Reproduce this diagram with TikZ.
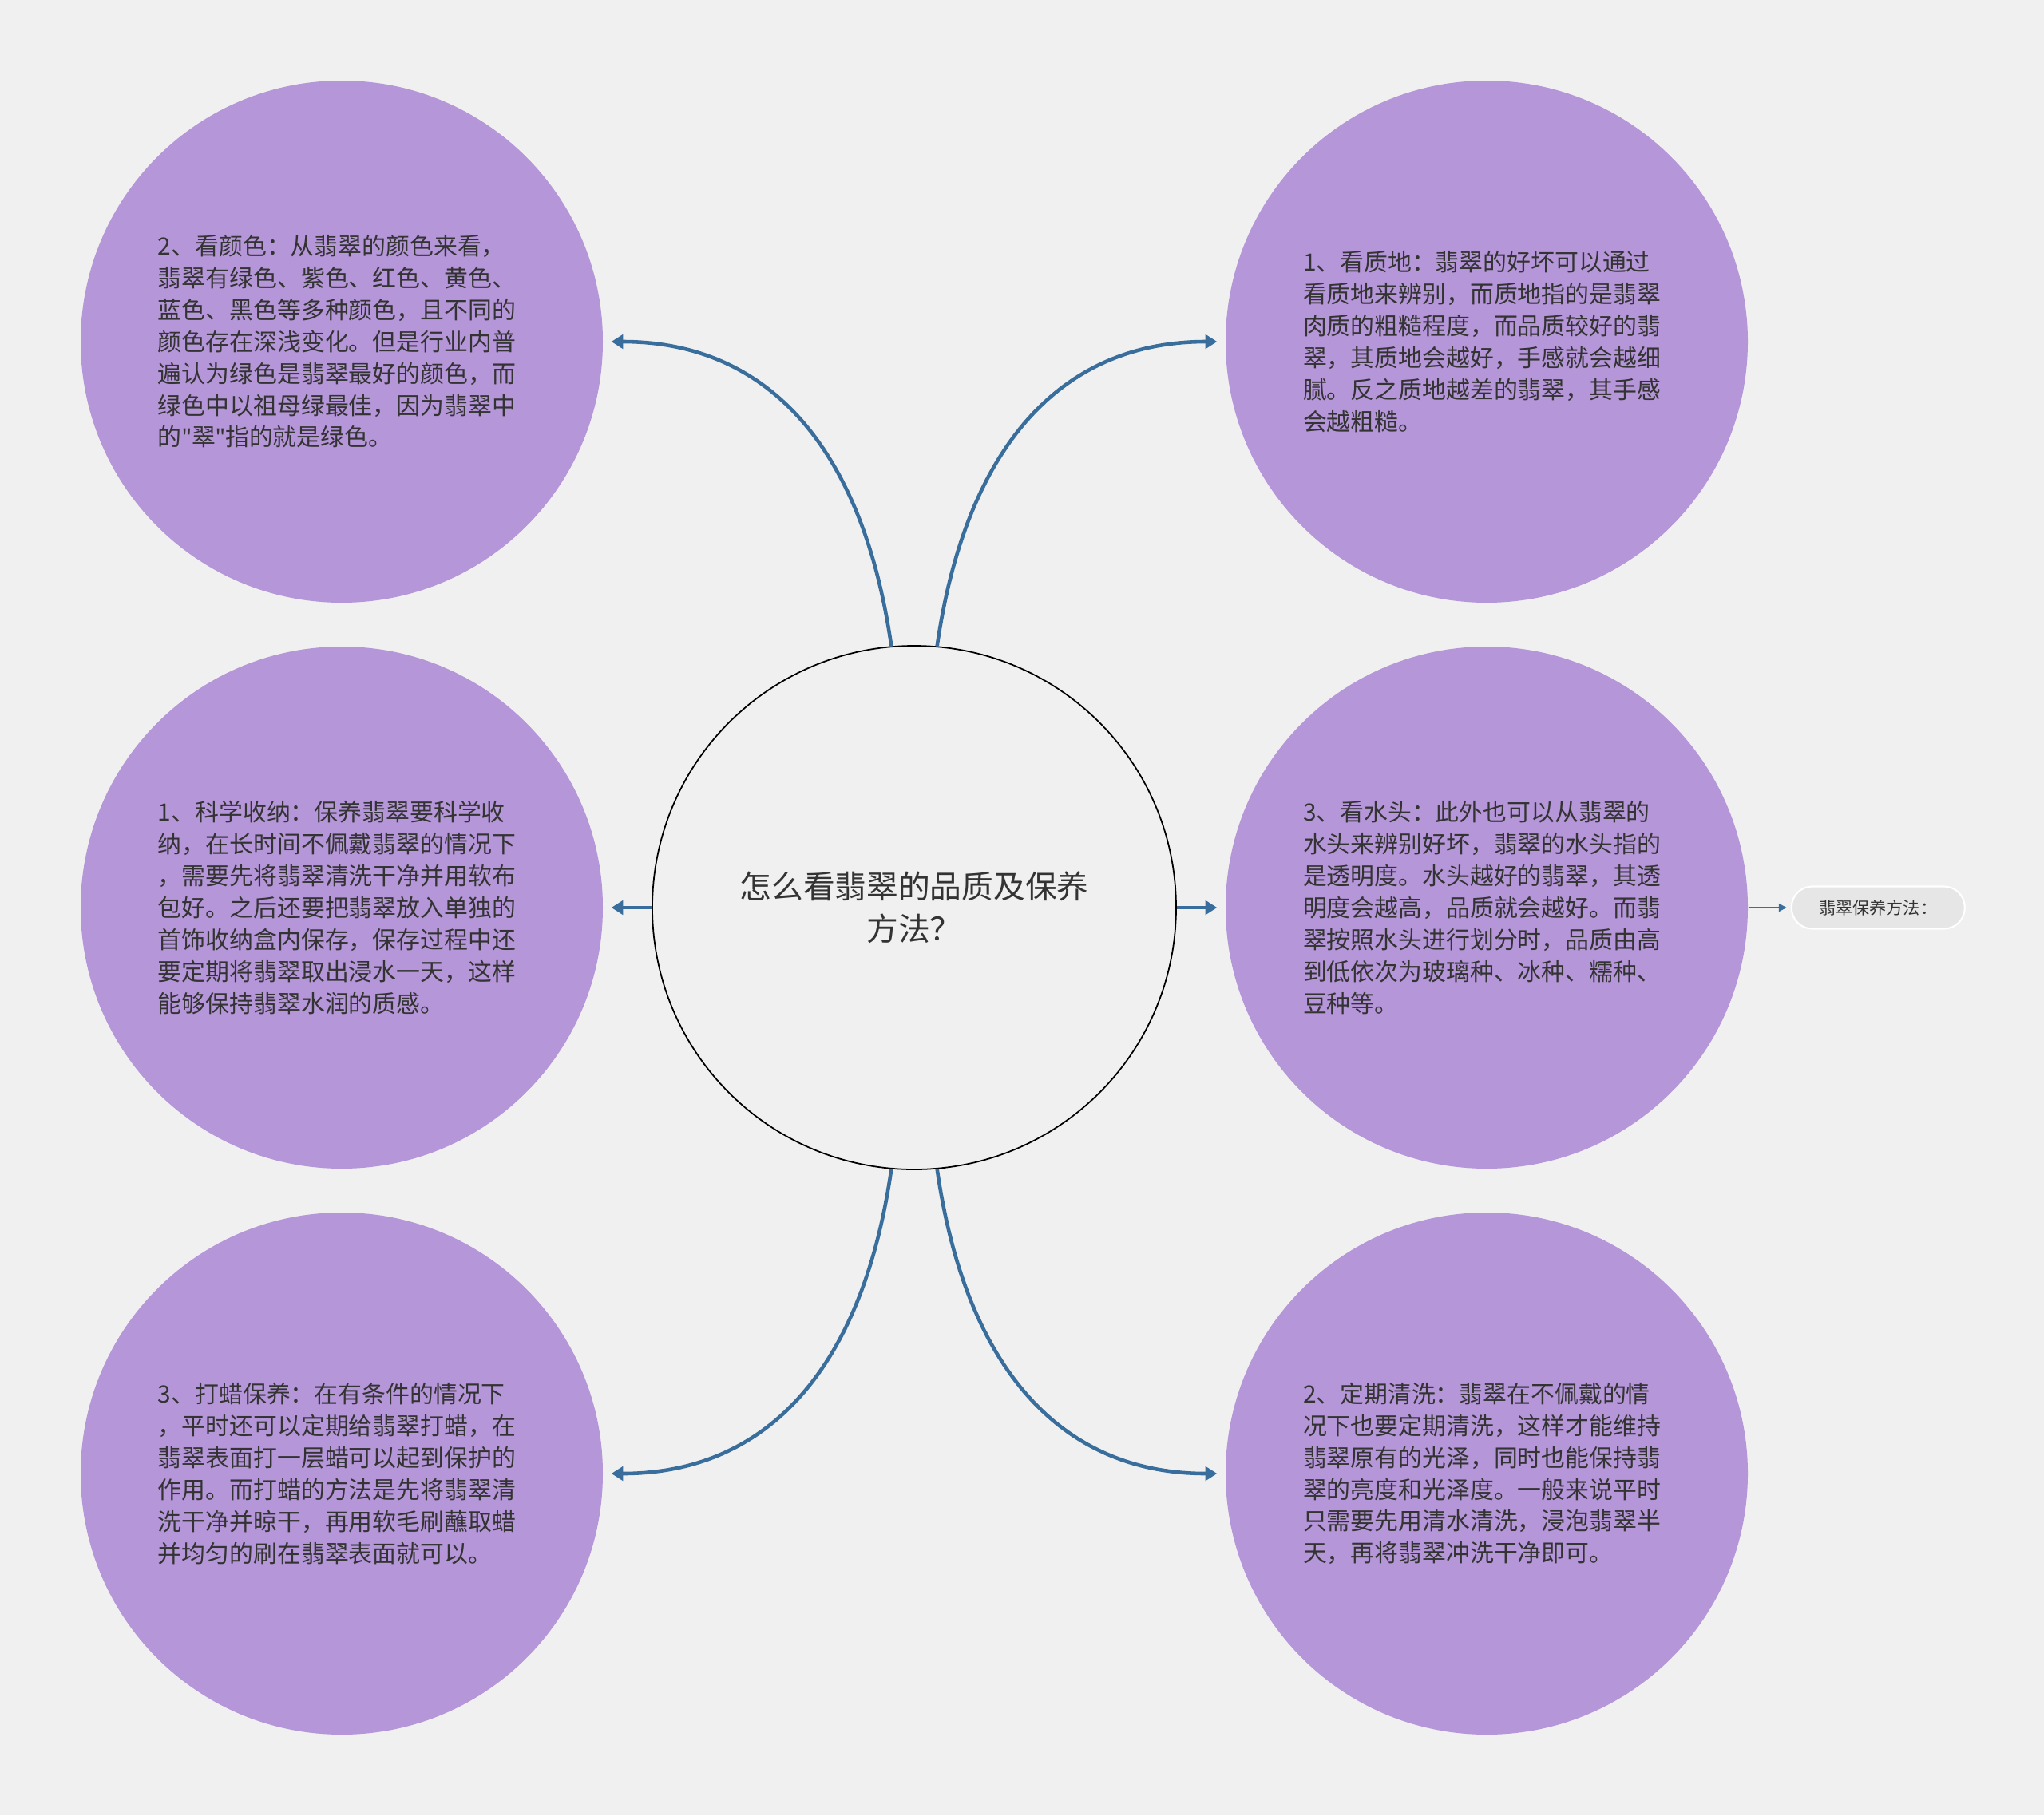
\documentclass[tikz,border=0pt]{standalone}
\usepackage{fontspec}
\setmainfont{Noto Sans CJK SC}
\newfontfamily\latinfont{Noto Sans}
\usepackage{xcolor}
\usepackage{tikz}
\usetikzlibrary{shapes.geometric, arrows.meta, positioning, calc}
\definecolor{bg}{HTML}{F0F0F0}
\definecolor{lilac}{HTML}{B596D9}
\definecolor{linkblue}{HTML}{386D9C}
\definecolor{ink}{HTML}{333333}
\definecolor{tagfill}{HTML}{E6E6E6}
\newcommand{\dq}{{\latinfont\symbol{34}}}
\tikzstyle{topic} = [circle, minimum size=6.56cm, inner sep=0pt, draw=black, line width=0.5pt, fill=bg, text=ink, align=center, font=\fontsize{11.3}{15}\selectfont]
\tikzstyle{leaf} = [circle, minimum size=6.54cm, inner sep=0pt, fill=lilac, text=ink, text width=4.6cm, align=left, font=\fontsize{8.5}{11.34}\selectfont]
\tikzstyle{tag} = [rectangle, rounded corners=0.26cm, minimum width=2.17cm, minimum height=0.53cm, draw=white, line width=0.6pt, fill=tagfill, text=ink, font=\fontsize{6}{7}\selectfont]
\tikzstyle{arrow} = [line width=1.3pt, draw=linkblue, -{Triangle[length=4.2pt,width=5pt]}, shorten >=0.1cm]
\tikzstyle{thinarrow} = [line width=0.6pt, draw=linkblue, -{Triangle[length=2.8pt,width=2.8pt]}, shorten >=0.05cm]

\begin{document}
\begin{tikzpicture}[node distance=7.09cm]
    \fill[bg] (0,0) rectangle (25.6,-22.74);
    \useasboundingbox (0,0) rectangle (25.6,-22.74);

    \node (hub) [topic] at (11.45,-11.37) {怎么看翡翠的品质及保养\\方法？};
    \node (keep) [leaf, left of=hub, xshift=-0.08cm] {1、科学收纳：保养翡翠要科学收\\纳，在长时间不佩戴翡翠的情况下\\，需要先将翡翠清洗干净并用软布\\包好。之后还要把翡翠放入单独的\\首饰收纳盒内保存，保存过程中还\\要定期将翡翠取出浸水一天，这样\\能够保持翡翠水润的质感。};
    \node (color) [leaf, above of=keep] {2、看颜色：从翡翠的颜色来看，\\翡翠有绿色、紫色、红色、黄色、\\蓝色、黑色等多种颜色，且不同的\\颜色存在深浅变化。但是行业内普\\遍认为绿色是翡翠最好的颜色，而\\绿色中以祖母绿最佳，因为翡翠中\\的\dq 翠\dq 指的就是绿色。};
    \node (wax) [leaf, below of=keep] {3、打蜡保养：在有条件的情况下\\，平时还可以定期给翡翠打蜡，在\\翡翠表面打一层蜡可以起到保护的\\作用。而打蜡的方法是先将翡翠清\\洗干净并晾干，再用软毛刷蘸取蜡\\并均匀的刷在翡翠表面就可以。};
    \node (water) [leaf, right of=hub, xshift=0.08cm] {3、看水头：此外也可以从翡翠的\\水头来辨别好坏，翡翠的水头指的\\是透明度。水头越好的翡翠，其透\\明度会越高，品质就会越好。而翡\\翠按照水头进行划分时，品质由高\\到低依次为玻璃种、冰种、糯种、\\豆种等。};
    \node (texture) [leaf, above of=water] {1、看质地：翡翠的好坏可以通过\\看质地来辨别，而质地指的是翡翠\\肉质的粗糙程度，而品质较好的翡\\翠，其质地会越好，手感就会越细\\腻。反之质地越差的翡翠，其手感\\会越粗糙。};
    \node (clean) [leaf, below of=water] {2、定期清洗：翡翠在不佩戴的情\\况下也要定期清洗，这样才能维持\\翡翠原有的光泽，同时也能保持翡\\翠的亮度和光泽度。一般来说平时\\只需要先用清水清洗，浸泡翡翠半\\天，再将翡翠冲洗干净即可。};
    \node (method) [tag, right=0.53cm of water] {翡翠保养方法：};

    \draw [arrow] (hub.95) .. controls +(-0.36,2.5) and +(2.05,0) .. (color.east);
    \draw [arrow] (hub.85) .. controls +(0.36,2.5) and +(-2.05,0) .. (texture.west);
    \draw [arrow] (hub) -- (keep);
    \draw [arrow] (hub) -- (water);
    \draw [arrow] (hub.265) .. controls +(-0.36,-2.5) and +(2.05,0) .. (wax.east);
    \draw [arrow] (hub.275) .. controls +(0.36,-2.5) and +(-2.05,0) .. (clean.west);
    \draw [thinarrow] (water) -- (method);
  \end{tikzpicture}
\end{document}
